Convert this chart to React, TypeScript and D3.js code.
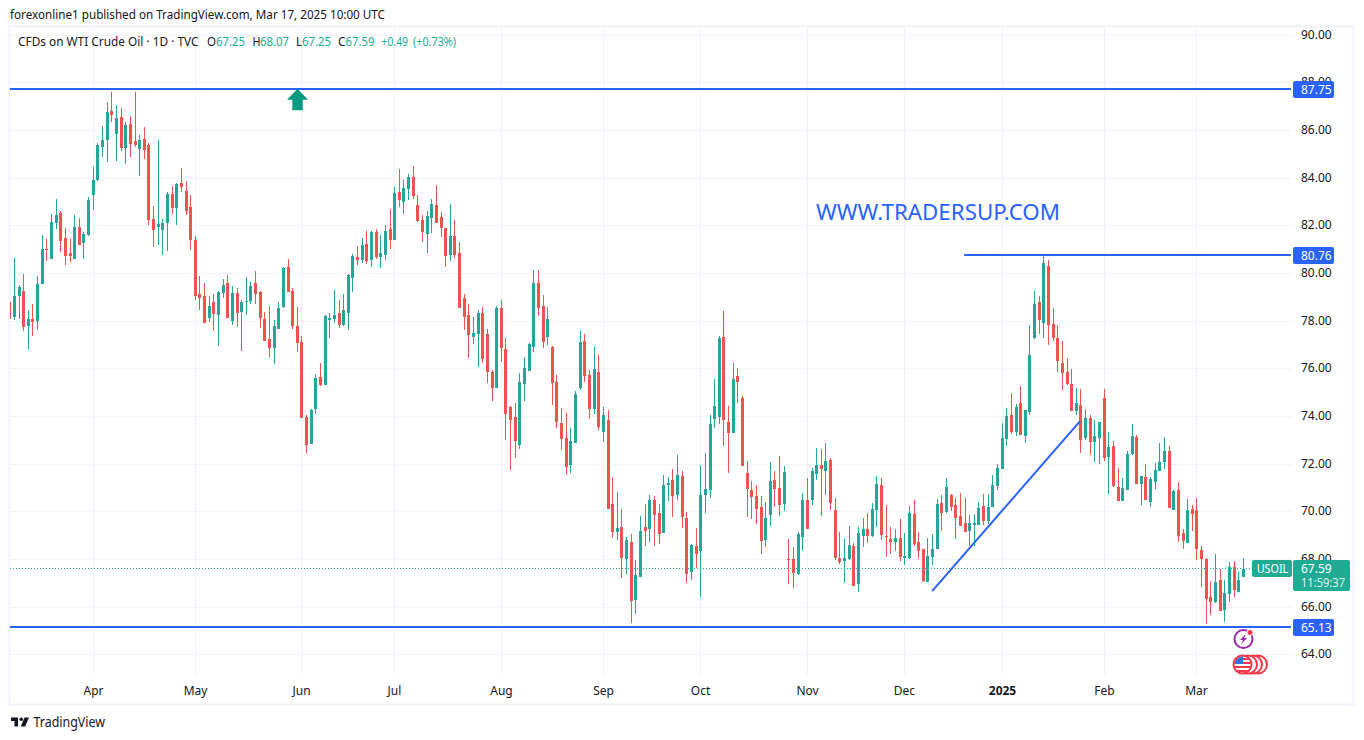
import React, { useRef, useEffect } from "react";
import * as d3 from "d3";

const FONT = "'Noto Sans', sans-serif";
const GREEN = "#26a69a";
const RED = "#ef5350";
const BLUE = "#2962ff";
const GRID = "#f0f3fa";
const INK = "#131722";

// daily candles, oldest first
const opens = [
  78.79,78.17,79.04,79.25,77.78,78.07,77.99,79.54,81.01,80.59,
  82.10,82.52,81.47,80.84,80.59,81.94,81.26,81.60,83.28,83.91,
  85.30,85.59,86.81,85.84,86.56,85.25,86.26,85.55,85.21,85.63,
  85.38,82.27,81.94,81.81,82.10,83.32,82.73,83.78,83.45,82.78,
  81.39,79.12,79.04,78.11,78.79,78.24,79.16,79.58,77.99,79.16,
  78.37,78.79,78.83,79.58,79.21,78.07,77.23,76.85,77.65,78.58,
  80.26,79.25,77.78,77.12,73.97,72.83,74.30,75.65,75.31,78.04,
  78.08,78.33,77.83,78.33,79.80,80.69,80.56,81.23,80.56,81.74,
  80.69,80.77,81.86,81.40,83.42,82.98,83.54,84.05,82.87,82.24,
  81.65,82.32,82.87,82.37,81.90,80.77,81.57,80.85,78.96,78.25,
  77.33,77.45,78.33,77.45,75.86,75.18,78.54,76.82,74.39,73.97,
  72.79,75.35,75.90,76.91,79.59,78.63,77.33,76.91,75.44,73.71,
  73.08,71.95,72.87,75.18,77.16,75.73,74.30,75.86,73.34,73.84,
  70.31,69.14,69.35,68.00,68.72,66.28,67.25,69.35,69.26,70.48,
  69.93,69.09,71.11,71.32,70.69,71.49,69.72,67.46,68.55,68.34,
  70.69,70.90,73.88,73.97,77.33,73.76,73.29,75.69,74.76,71.61,
  70.90,70.65,70.19,68.80,69.85,71.32,70.98,70.31,68.00,68.00,
  67.37,68.93,70.48,70.48,71.57,71.95,71.70,72.16,70.06,68.04,
  67.92,68.00,68.55,66.95,68.97,69.26,68.97,70.06,71.11,68.97,
  68.84,68.72,68.88,68.04,68.04,69.89,68.72,68.42,67.05,68.09,
  68.42,70.36,69.99,70.70,70.28,69.82,69.52,69.19,69.44,69.44,
  70.24,69.61,70.20,71.08,71.79,73.05,74.06,73.34,74.56,73.17,
  74.18,77.29,78.80,77.92,80.31,77.87,77.29,76.24,75.86,75.36,
  74.22,74.47,73.09,73.93,72.92,73.09,74.77,72.29,72.75,71.03,
  70.45,70.91,72.42,73.13,71.16,71.45,70.40,71.24,71.70,72.08,
  72.54,70.07,70.91,69.10,68.68,70.11,70.07,68.39,68.01,66.42,
  66.21,67.13,65.87,66.54,67.68,66.63,67.25,
];
const closes = [
  78.09,79.04,79.42,77.74,78.07,77.95,79.54,81.01,80.97,82.15,
  82.44,81.35,80.72,80.72,81.94,81.18,81.64,83.07,83.91,85.38,
  85.59,86.77,86.64,86.51,85.25,86.22,85.42,85.38,85.59,85.17,
  82.23,81.81,82.06,82.10,83.32,82.73,83.74,83.62,82.61,81.39,
  79.04,78.98,77.90,78.62,78.28,79.21,79.50,78.11,79.16,78.32,
  78.79,78.83,79.46,79.12,78.11,77.15,76.85,77.78,78.53,80.21,
  79.21,77.78,77.06,73.92,72.79,74.26,75.60,75.31,78.21,78.12,
  78.25,77.83,78.46,79.93,80.73,80.56,81.19,80.52,81.74,80.69,
  80.85,81.78,81.40,83.37,83.08,83.58,84.05,83.25,82.20,81.74,
  82.41,82.91,82.11,81.90,80.73,81.57,80.77,78.54,78.17,77.41,
  77.49,78.33,76.40,75.86,75.18,78.54,76.86,74.09,73.84,72.96,
  75.44,76.02,77.03,79.59,78.54,77.12,78.08,75.39,73.76,73.04,
  71.87,72.96,74.93,77.12,75.69,74.30,75.98,73.55,74.05,70.10,
  69.14,69.30,68.04,68.80,66.24,67.33,69.18,69.18,70.48,69.85,
  69.05,71.11,71.19,70.65,71.53,69.77,67.37,68.59,68.21,70.69,
  70.94,73.67,74.43,77.28,73.84,73.29,75.56,75.44,71.91,70.94,
  70.61,70.10,68.76,69.72,71.28,70.94,70.27,71.66,67.96,67.41,
  69.05,70.48,69.26,71.70,71.95,71.78,72.12,70.35,68.04,67.88,
  68.04,68.59,66.87,69.09,69.26,68.97,70.10,71.15,69.01,68.93,
  68.72,68.88,68.09,68.13,69.93,68.63,68.34,67.09,68.14,68.42,
  70.32,69.94,71.04,70.20,69.74,69.40,69.15,69.52,69.52,70.15,
  69.61,70.20,71.12,71.83,73.09,74.01,73.34,74.39,73.22,74.27,
  76.57,78.71,78.04,80.43,77.83,77.29,76.32,75.82,75.36,74.22,
  74.56,73.01,73.93,72.92,73.17,73.76,72.25,72.71,71.08,70.45,
  70.99,72.42,73.17,71.16,71.50,70.49,71.37,71.75,72.08,72.54,
  70.15,70.87,68.98,68.77,70.07,69.90,68.43,68.01,66.33,66.21,
  67.05,65.83,66.58,67.68,66.71,67.13,67.59,
];
const highs = [
  79.46,80.63,79.50,79.96,78.45,78.70,79.88,81.60,81.43,82.48,
  83.11,82.61,81.89,81.43,82.44,82.31,81.73,83.20,84.46,85.46,
  86.18,87.19,87.61,87.06,86.93,86.35,86.60,87.61,85.80,86.14,
  85.46,82.82,85.59,82.27,83.41,83.66,83.78,84.41,83.87,83.28,
  81.56,79.88,79.58,79.04,79.12,79.25,79.75,79.92,79.46,79.37,
  78.87,79.84,79.63,80.09,79.25,78.37,78.62,78.03,78.79,80.26,
  80.59,79.37,78.58,77.37,74.05,74.30,75.77,76.23,78.25,78.33,
  79.30,78.88,79.13,79.97,80.81,81.15,81.48,81.78,81.78,81.86,
  81.61,82.03,82.70,83.63,84.38,83.92,84.17,84.51,83.29,82.45,
  82.62,83.12,83.71,82.58,81.90,82.91,82.24,81.32,79.13,78.71,
  78.17,78.46,78.59,77.66,75.94,78.63,78.88,77.28,74.43,74.55,
  75.81,76.49,77.07,80.14,80.14,79.09,78.59,76.95,75.73,74.34,
  74.13,73.50,75.06,77.58,77.45,75.94,76.91,76.57,74.39,74.26,
  71.45,70.82,70.10,68.93,69.05,67.96,69.81,70.31,70.69,70.65,
  70.31,71.53,71.45,71.78,72.37,71.70,69.98,68.63,69.30,71.95,
  72.45,74.05,75.56,77.37,78.42,74.43,76.23,76.02,74.85,72.12,
  71.28,71.11,70.65,70.40,72.08,71.70,72.33,71.91,68.84,68.51,
  69.14,70.77,71.40,71.82,72.66,72.62,72.87,72.24,70.56,69.14,
  68.84,69.39,68.67,69.35,69.72,69.93,70.35,71.49,71.40,70.27,
  69.35,69.26,69.68,69.09,70.23,70.48,69.14,68.45,68.89,69.06,
  70.53,70.70,71.41,70.74,70.57,70.78,70.57,69.86,69.90,70.40,
  70.74,70.74,71.54,72.00,73.72,74.35,74.98,74.52,75.27,74.27,
  77.83,79.26,79.05,80.77,80.56,78.55,77.83,77.16,76.45,75.99,
  75.19,75.15,74.31,74.06,73.85,73.76,75.15,73.34,72.96,71.83,
  71.41,72.54,73.68,73.22,71.50,72.00,71.45,72.04,72.88,73.13,
  72.75,70.91,71.24,69.27,70.53,70.28,70.57,68.56,68.05,67.09,
  68.22,67.59,67.13,67.89,67.93,67.47,68.07,
];
const lows = [
  77.58,78.03,78.07,77.57,76.81,77.36,77.61,79.54,80.51,80.59,
  81.85,80.89,80.34,80.47,80.59,81.18,80.59,81.56,82.65,83.87,
  84.88,84.67,86.35,84.71,85.13,84.58,84.88,85.30,84.08,84.79,
  82.02,81.10,81.18,80.76,80.93,82.48,82.02,83.41,82.44,80.97,
  78.87,78.45,77.90,77.95,77.57,76.94,78.95,78.11,77.82,77.74,
  76.73,78.24,78.70,78.70,77.69,77.15,76.48,76.18,77.65,78.53,
  79.21,77.65,76.69,73.92,72.45,72.83,74.09,75.27,75.31,77.28,
  77.91,77.70,77.79,77.62,79.22,80.35,80.43,80.39,80.27,80.60,
  80.22,80.56,81.02,81.40,82.79,82.49,83.08,83.12,82.16,81.32,
  80.85,81.69,82.11,81.53,80.27,80.52,80.64,78.54,77.62,76.44,
  77.03,76.07,76.23,75.39,74.64,75.18,76.28,73.00,71.74,72.24,
  72.62,74.64,75.90,76.70,78.21,76.86,76.99,74.47,73.50,72.58,
  71.53,71.61,72.87,75.10,75.44,73.88,74.09,73.42,72.92,70.10,
  68.88,68.80,67.20,67.37,65.31,65.69,67.25,68.55,68.72,68.55,
  68.63,69.09,70.44,69.77,70.48,69.30,66.99,67.12,67.62,66.41,
  69.93,70.56,73.50,73.67,72.75,71.61,73.29,74.55,71.91,69.77,
  69.68,69.47,68.21,68.51,69.39,70.19,69.81,70.02,66.95,66.78,
  67.33,68.34,69.26,70.27,71.32,69.81,70.69,70.06,67.96,67.79,
  67.00,67.96,66.87,66.62,68.51,68.67,68.93,69.35,68.80,68.09,
  68.21,68.34,67.92,67.75,68.00,68.55,68.00,67.05,67.05,67.76,
  68.42,69.19,69.94,70.03,68.86,69.40,69.15,68.56,68.56,69.44,
  69.44,69.48,70.20,70.91,71.79,72.75,73.26,73.17,73.22,72.88,
  74.06,77.25,77.45,77.29,77.00,77.16,75.86,75.10,75.31,74.22,
  74.06,72.46,73.01,72.38,72.08,72.00,72.12,70.74,71.03,70.45,
  70.45,70.91,72.38,71.16,70.28,70.49,70.20,70.95,71.70,71.79,
  70.15,70.07,68.73,68.43,68.68,69.19,67.97,66.84,65.28,65.66,
  66.17,65.83,65.37,66.21,66.42,66.63,67.25,
];

const priceTicks = [64, 66, 68, 70, 72, 74, 76, 78, 80, 82, 84, 86, 88, 90];
const monthLabels = ["Apr", "May", "Jun", "Jul", "Aug", "Sep", "Oct", "Nov", "Dec", "2025", "Feb", "Mar"];
const monthBars = [18, 40, 63, 83, 106, 128, 149, 172, 193, 214, 236, 256];

const levels = [87.75, 80.76, 65.13];
const levelStart = [-1, 205.8, -1]; // bar index each level line starts from
const trendBars = [198.9, 230.8];
const trendPrices = [66.67, 73.8];
const lastPrice = 67.59;
const arrowBar = 62.05;

const TEAL = "#22ab94";
const legendParts = [
  { t: "CFDs on WTI Crude Oil · 1D · TVC", x: 18, c: INK, w: 180.5 },
  { t: "O", x: 207, c: INK, w: 9 },
  { t: "67.25", x: 216, c: TEAL, w: 29 },
  { t: "H", x: 252.5, c: INK, w: 8 },
  { t: "68.07", x: 260, c: TEAL, w: 29 },
  { t: "L", x: 296, c: INK, w: 6 },
  { t: "67.25", x: 302, c: TEAL, w: 29 },
  { t: "C", x: 338, c: INK, w: 7.5 },
  { t: "67.59", x: 345.5, c: TEAL, w: 29 },
  { t: "+0.49", x: 381.5, c: TEAL, w: 26.5 },
  { t: "(+0.73%)", x: 413, c: TEAL, w: 43 },
];

export default function App() {
  const ref = useRef<SVGSVGElement>(null);

  useEffect(() => {
    if (!ref.current) return;
    const svg = d3.select(ref.current);
    svg.selectAll("*").remove();

    const x = d3.scaleLinear().domain([0, opens.length - 1]).range([9.8, 1243.3]);
    const y = d3.scaleLinear().domain([64, 88]).range([654.7, 82.7]);
    // the drawn levels sit a fraction of a pixel off the candle scale
    const yLevel = d3.scaleLinear().domain([64, 88]).range([654.3, 83]);
    const col = (i: number) => Math.floor(x(i));
    const row = (p: number) => Math.round(y(p));

    const text = (g: any, s: string, px: number, py: number, size: number, fill: string, w?: number) => {
      const t = g.append("text").attr("x", px).attr("y", py).attr("font-size", size).attr("fill", fill)
        .attr("font-family", FONT).text(s);
      if (w) t.attr("textLength", w).attr("lengthAdjust", "spacingAndGlyphs");
      return t;
    };

    svg.append("rect").attr("width", 1364).attr("height", 740).attr("fill", "#fff");

    // outer frame
    svg.append("rect").attr("x", 9.5).attr("y", 26.5).attr("width", 1344).attr("height", 678)
      .attr("fill", "none").attr("stroke", GRID).attr("stroke-width", 2);

    const defs = svg.append("defs");
    defs.append("clipPath").attr("id", "pane").append("rect")
      .attr("x", 10).attr("y", 27).attr("width", 1281).attr("height", 650);

    // grid
    svg.append("g").selectAll("rect").data(priceTicks).enter().append("rect")
      .attr("x", 10).attr("width", 1281).attr("y", d => Math.floor(y(d))).attr("height", 1).attr("fill", GRID);
    svg.append("g").selectAll("rect").data(monthBars).enter().append("rect")
      .attr("x", d => col(d)).attr("width", 1).attr("y", 27).attr("height", 650).attr("fill", GRID);

    // price axis goes under the level tags
    svg.append("g").selectAll("text").data(priceTicks).enter().append("text")
      .attr("x", 1301).attr("y", d => y(d) + 3.7).attr("font-size", 12).attr("fill", INK).attr("font-family", FONT)
      .text(d => d.toFixed(2));

    // candles
    const bars = d3.range(opens.length);
    const pane = svg.append("g").attr("clip-path", "url(#pane)");
    const colour = (i: number) => (closes[i] >= opens[i] ? GREEN : RED);
    pane.append("g").selectAll("rect").data(bars).enter().append("rect")
      .attr("x", col).attr("width", 1)
      .attr("y", i => row(highs[i])).attr("height", i => Math.max(1, row(lows[i]) - row(highs[i])))
      .attr("fill", colour);
    pane.append("g").selectAll("rect").data(bars).enter().append("rect")
      .attr("x", i => col(i) - 1).attr("width", 3)
      .attr("y", i => row(Math.max(opens[i], closes[i])))
      .attr("height", i => Math.max(1, row(Math.min(opens[i], closes[i])) - row(Math.max(opens[i], closes[i]))))
      .attr("fill", colour);

    // last price line
    const lastY = Math.floor(y(lastPrice)) - 0.5;
    svg.append("line").attr("x1", 10).attr("x2", 1252).attr("y1", lastY).attr("y2", lastY)
      .attr("stroke", TEAL).attr("stroke-dasharray", "1 2");

    // drawn levels
    levels.forEach((p, i) => {
      const x1 = levelStart[i] < 0 ? 10 : x(levelStart[i]);
      const top = Math.round(yLevel(p) - 1);
      svg.append("rect").attr("x", x1).attr("width", 1291 - x1).attr("y", top).attr("height", 2).attr("fill", BLUE);
      svg.append("rect").attr("x", 1293).attr("width", 41).attr("y", top - 7).attr("height", 17).attr("rx", 2).attr("fill", BLUE);
      text(svg, p.toFixed(2), 1301, top + 5.5, 12, "#fff");
    });

    svg.append("line")
      .attr("x1", x(trendBars[0])).attr("y1", y(trendPrices[0]))
      .attr("x2", x(trendBars[1])).attr("y2", y(trendPrices[1]))
      .attr("stroke", BLUE).attr("stroke-width", 2);

    // arrow
    const ax = x(arrowBar), ay = y(levels[0]);
    svg.append("path")
      .attr("d", `M${ax} ${ay}L${ax + 10.5} ${ay + 11}H${ax + 5.2}V${ay + 21.5}H${ax - 5.2}V${ay + 11}H${ax - 10.5}Z`)
      .attr("fill", "#089981");

    text(svg, "WWW.TRADERSUP.COM", 816, 220, 22.4, BLUE, 244);

    // time axis
    svg.append("g").selectAll("text").data(monthLabels).enter().append("text")
      .attr("x", (_, i) => col(monthBars[i]) + 0.5).attr("y", 695).attr("text-anchor", "middle")
      .attr("font-size", 12).attr("fill", INK).attr("font-family", FONT)
      .attr("font-weight", d => (d === "2025" ? 700 : 400)).text(d => d);

    // last price tags
    svg.append("rect").attr("x", 1252).attr("y", 560).attr("width", 40).attr("height", 17).attr("rx", 2).attr("fill", TEAL);
    text(svg, "USOIL", 1256.7, 573, 12, "#fff", 31.5);
    svg.append("rect").attr("x", 1293).attr("y", 560).attr("width", 57).attr("height", 31).attr("rx", 2).attr("fill", TEAL);
    text(svg, lastPrice.toFixed(2), 1301, 573, 12, "#fff");
    text(svg, "11:59:37", 1301, 587, 12, "#dff3ef", 44);

    // header + legend
    text(svg, "forexonline1 published on TradingView.com, Mar 17, 2025 10:00 UTC", 10, 19, 12, INK, 375);
    legendParts.forEach(d => text(svg, d.t, d.x, 46, 12, d.c, d.w));

    // event markers
    const ev = svg.append("g").attr("transform", "translate(1243.5,639)");
    ev.append("circle").attr("r", 9).attr("fill", "#fff").attr("stroke", "#9c27b0").attr("stroke-width", 2);
    ev.append("path").attr("d", "M2.5 -5.5L-3.5 1H-0.5L-2.5 5.5L3.5 -1H0.5Z").attr("fill", "#9c27b0");
    ev.append("circle").attr("cx", 6.5).attr("cy", -6.5).attr("r", 3).attr("fill", "#f23645").attr("stroke", "#fff");

    [1258, 1253, 1248].forEach(cx => {
      svg.append("circle").attr("cx", cx).attr("cy", 664.5).attr("r", 9).attr("fill", "#fff").attr("stroke", "#f23645").attr("stroke-width", 2);
    });
    defs.append("clipPath").attr("id", "flag").append("circle").attr("cx", 1242.5).attr("cy", 664.5).attr("r", 8);
    const flag = svg.append("g").attr("clip-path", "url(#flag)");
    flag.append("rect").attr("x", 1234).attr("y", 656).attr("width", 18).attr("height", 18).attr("fill", "#fff");
    [658, 662, 666, 670].forEach(sy => {
      flag.append("rect").attr("x", 1234).attr("y", sy).attr("width", 18).attr("height", 2).attr("fill", "#f23645");
    });
    flag.append("rect").attr("x", 1234).attr("y", 656).attr("width", 9).attr("height", 8).attr("fill", "#3a6fd8");
    svg.append("circle").attr("cx", 1242.5).attr("cy", 664.5).attr("r", 9).attr("fill", "none").attr("stroke", "#f23645").attr("stroke-width", 2);

    // TradingView logo
    const logo = svg.append("g").attr("transform", "translate(10,717)").attr("fill", INK);
    logo.append("path").attr("d", "M1 0.5h7v9H4.5V4H1z");
    logo.append("circle").attr("cx", 11.2).attr("cy", 2.3).attr("r", 1.8);
    logo.append("path").attr("d", "M14.5 0.5H19L15.2 9.5H10.8z");
    text(svg, "TradingView", 33.5, 727, 13.5, INK, 71.5);
  }, []);

  return (
    <div style={{ position: "fixed", left: 0, top: 0 }}>
      <svg ref={ref} width={1364} height={740} style={{ display: "block" }} />
    </div>
  );
}
